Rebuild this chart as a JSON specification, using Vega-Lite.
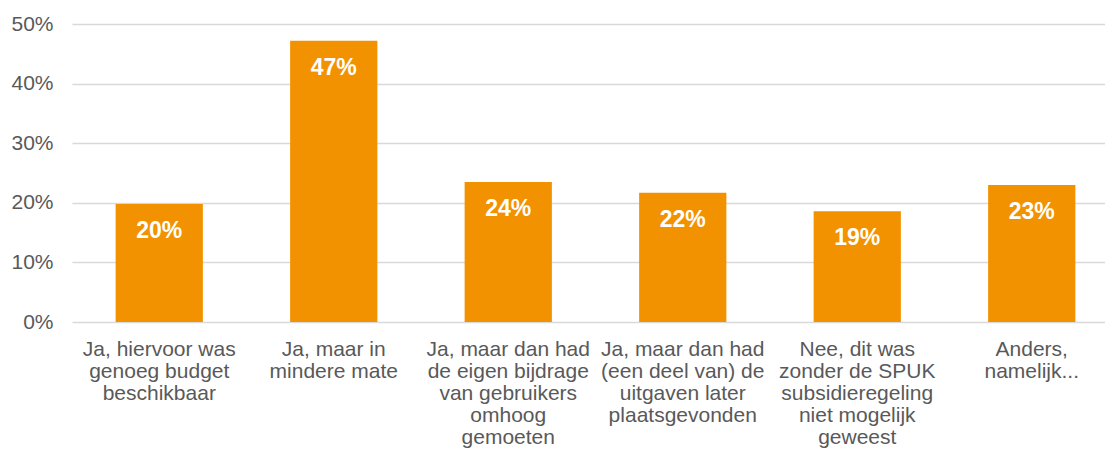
{
  "$schema": "https://vega.github.io/schema/vega-lite/v6.json",
  "autosize": {"type": "none"},
  "padding": {"left": 72, "top": 24, "right": 0, "bottom": 133},
  "width": 1033,
  "height": 298,
  "background": "white",
  "config": {"view": {"stroke": null}, "font": "Liberation Sans"},
  "data": {"values": [
    {"cat": "Ja, hiervoor was|genoeg budget|beschikbaar", "value": 0.198, "label": "20%"},
    {"cat": "Ja, maar in|mindere mate", "value": 0.472, "label": "47%"},
    {"cat": "Ja, maar dan had|de eigen bijdrage|van gebruikers|omhoog|gemoeten", "value": 0.235, "label": "24%"},
    {"cat": "Ja, maar dan had|(een deel van) de|uitgaven later|plaatsgevonden", "value": 0.217, "label": "22%"},
    {"cat": "Nee, dit was|zonder de SPUK|subsidieregeling|niet mogelijk|geweest", "value": 0.186, "label": "19%"},
    {"cat": "Anders,|namelijk...", "value": 0.23, "label": "23%"}
  ]},
  "encoding": {
    "x": {
      "field": "cat", "type": "nominal", "sort": null,
      "scale": {"paddingInner": 0.5, "paddingOuter": 0.25, "range": [0, 1047]},
      "axis": {
        "title": null, "labelAngle": 0, "ticks": false, "domain": false,
        "labelExpr": "split(datum.label, '|')",
        "labelFontSize": 21, "labelColor": "#595959", "labelPadding": 16,
        "labelLineHeight": 22, "labelBaseline": "top", "labelLimit": 0
      }
    },
    "y": {
      "field": "value", "type": "quantitative",
      "scale": {"domain": [0, 0.5]},
      "axis": {
        "title": null, "format": ".0%", "values": [0, 0.1, 0.2, 0.3, 0.4, 0.5],
        "ticks": false, "domain": false, "labelFontSize": 21, "labelColor": "#595959",
        "labelPadding": 19, "gridColor": "#d9d9d9", "gridWidth": 1.3
      }
    }
  },
  "layer": [
    {"mark": {"type": "bar", "color": "#F39200"}},
    {
      "mark": {"type": "text", "color": "white", "fontWeight": "bold", "fontSize": 23, "baseline": "top", "dy": 16},
      "encoding": {"text": {"field": "label"}}
    }
  ]
}
